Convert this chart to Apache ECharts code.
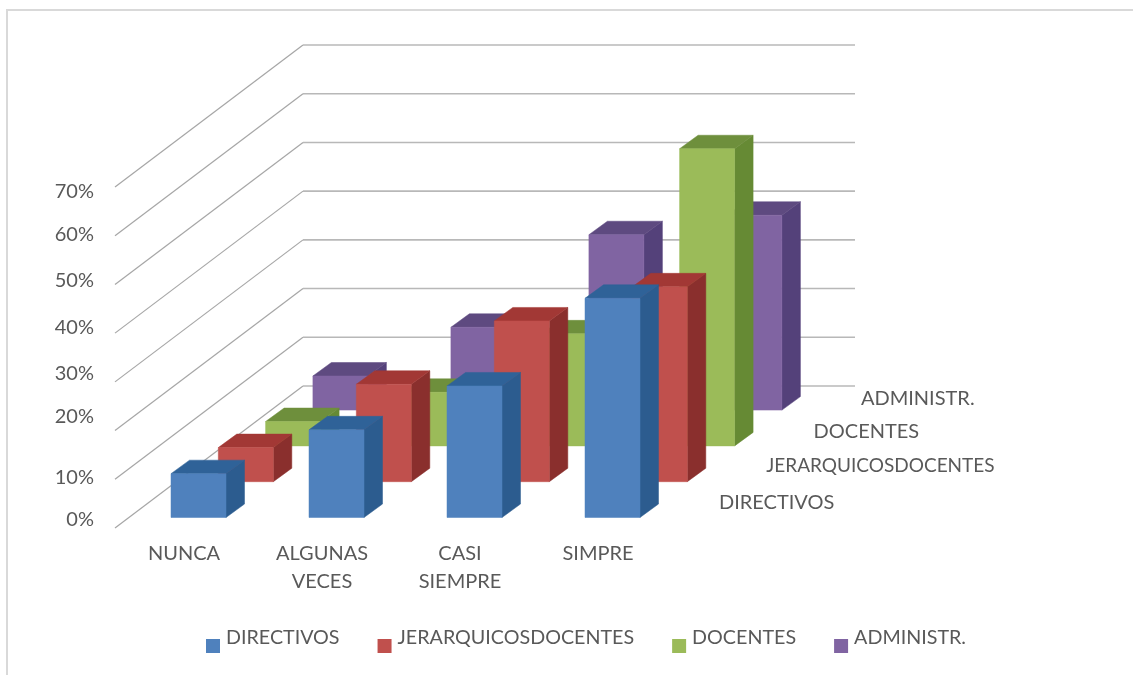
<!DOCTYPE html>
<html>
<head>
<meta charset="utf-8">
<script src="https://cdn.jsdelivr.net/npm/echarts@6/dist/echarts.min.js"></script>
<style>
  html, body { margin: 0; padding: 0; background: #fff; }
  #chart { width: 1143px; height: 675px; }
</style>
</head>
<body>
<div id="chart"></div>
<script>
const categories = ['NUNCA', 'ALGUNAS\nVECES', 'CASI\nSIEMPRE', 'SIMPRE'];
const rowNames = ['DIRECTIVOS', 'JERARQUICOSDOCENTES', 'DOCENTES', 'ADMINISTR.'];
const directivos = [9, 18, 27, 45];
const jerarquicos = [7, 20, 33, 40];
const docentes = [5, 11, 23, 61];
const administr = [7, 17, 36, 40];
const tickValues = [0, 10, 20, 30, 40, 50, 60, 70];

const rowValues = [directivos, jerarquicos, docentes, administr];
const faceColors = [
  { front: '#4F81BD', side: '#2C5C8F', top: '#2F6298' },
  { front: '#C0504D', side: '#8A2F2D', top: '#A23835' },
  { front: '#9BBB59', side: '#668A34', top: '#6E8F3C' },
  { front: '#8064A2', side: '#54417A', top: '#5E4A80' }
];

// Oblique projection of the depth axis, in pixels.
const rowStart = [14.5, -10.5];
const rowStep = [47.3, -35.8];
const wallDepth = [188, -142];
const boxDepth = [18.5, -13.5];
const barWidth = 55;
// Small per-tick vertical shifts of the percentage labels.
const tickShift = [-8, -2, -14, -8, -6, -4, -1, 5];
const depthLabelShift = [0, -1, 0, 3];
const depthLabelSize = [20, 19, 20, 20];

const textColor = '#595959';
const fontFamily = 'Lato, "Open Sans", sans-serif';
const fontSize = 20;
const legendFontSize = 19.7;

function rowOffset(row) {
  return [rowStart[0] + rowStep[0] * row, rowStart[1] + rowStep[1] * row];
}

function polygon(points, fill) {
  return { type: 'polygon', shape: { points }, style: { fill, stroke: fill, lineWidth: 0.5 } };
}

function boxSeries(row) {
  return {
    type: 'custom',
    name: rowNames[row],
    coordinateSystem: 'cartesian2d',
    itemStyle: { color: faceColors[row].front },
    encode: { x: 0, y: 1 },
    data: rowValues[row].map((v, i) => [i, v]),
    z: 5 + (3 - row),
    renderItem(params, api) {
      const off = rowOffset(row);
      const top = api.coord([api.value(0), api.value(1)]);
      const base = api.coord([api.value(0), 0]);
      const x0 = top[0] + off[0] - barWidth / 2;
      const x1 = x0 + barWidth;
      const yTop = top[1] + off[1];
      const yBase = base[1] + off[1];
      const [dx, dy] = boxDepth;
      const c = faceColors[row];
      return {
        type: 'group',
        children: [
          polygon([[x1, yTop], [x1 + dx, yTop + dy], [x1 + dx, yBase + dy], [x1, yBase]], c.side),
          polygon([[x0, yTop], [x0 + dx, yTop + dy], [x1 + dx, yTop + dy], [x1, yTop]], c.top),
          polygon([[x0, yTop], [x1, yTop], [x1, yBase], [x0, yBase]], c.front)
        ]
      };
    }
  };
}

// Side wall and back wall rules, one per value tick.
const wallSeries = {
  type: 'custom',
  name: 'walls',
  coordinateSystem: 'cartesian2d',
  silent: true,
  encode: { x: 0, y: 1 },
  data: tickValues.map(v => [0, v]),
  z: 2,
  renderItem(params, api) {
    const band = api.size([1, 0])[0];
    const p = api.coord([0, api.value(1)]);
    const x0 = p[0] - band / 2;
    const bx = x0 + wallDepth[0];
    const by = p[1] + wallDepth[1];
    return {
      type: 'group',
      children: [
        { type: 'line', shape: { x1: x0, y1: p[1], x2: bx, y2: by }, style: { stroke: '#A6A6A6', lineWidth: 1.2 } },
        { type: 'line', shape: { x1: bx, y1: by, x2: bx + band * 4, y2: by }, style: { stroke: '#B8B8B8', lineWidth: 1.6 } }
      ]
    };
  }
};

// Row names along the depth axis, right of the last category.
const depthLabelSeries = {
  type: 'custom',
  name: 'depth labels',
  coordinateSystem: 'cartesian2d',
  silent: true,
  encode: { x: 0, y: 1 },
  data: rowNames.map((n, i) => [3, 0, i]),
  z: 3,
  renderItem(params, api) {
    const row = api.value(2);
    const band = api.size([1, 0])[0];
    const p = api.coord([3, 0]);
    const off = rowOffset(row);
    return {
      type: 'text',
      style: {
        x: p[0] + band / 2 + off[0] + 37.5,
        y: p[1] + off[1] - 14.5 + depthLabelShift[row],
        text: rowNames[row],
        fill: textColor,
        font: depthLabelSize[row] + 'px ' + fontFamily,
        align: 'left',
        verticalAlign: 'middle'
      }
    };
  }
};

const tickRich = {};
tickShift.forEach((s, i) => {
  tickRich['t' + i] = { padding: s < 0 ? [0, 0, -2 * s, 0] : [2 * s, 0, 0, 0], fontSize, fontFamily, color: textColor };
});

const chart = echarts.init(document.getElementById('chart'));
chart.setOption({
  animation: false,
  backgroundColor: '#fff',
  grid: { left: 115, top: 187, width: 552, height: 341, containLabel: false },
  xAxis: {
    type: 'category',
    data: categories,
    axisLine: { show: false },
    axisTick: { show: false },
    splitLine: { show: false },
    axisLabel: { color: textColor, fontFamily, fontSize, lineHeight: 28, margin: 12, interval: 0 }
  },
  yAxis: {
    type: 'value',
    min: 0,
    max: 70,
    interval: 10,
    axisLine: { show: false },
    axisTick: { show: false },
    splitLine: { show: false },
    axisLabel: {
      margin: 21,
      formatter: v => '{t' + (v / 10) + '|' + v + '%}',
      rich: tickRich
    }
  },
  legend: {
    left: 201,
    top: 623,
    itemWidth: 14,
    itemHeight: 14,
    itemGap: 38,
    icon: 'rect',
    data: rowNames,
    selectedMode: false,
    formatter: name => '{n|' + name + '}',
    textStyle: {
      rich: {
        n: { color: textColor, fontFamily, fontSize: legendFontSize, padding: [0, 0, 16, 1] }
      }
    }
  },
  graphic: [
    { type: 'polyline', silent: true, shape: { points: [[7, 675], [7, 10], [1133, 10]] }, style: { stroke: '#D9D9D9', fill: null, lineWidth: 2 } }
  ],
  series: [wallSeries, depthLabelSeries, boxSeries(3), boxSeries(2), boxSeries(1), boxSeries(0)]
});
</script>
</body>
</html>
